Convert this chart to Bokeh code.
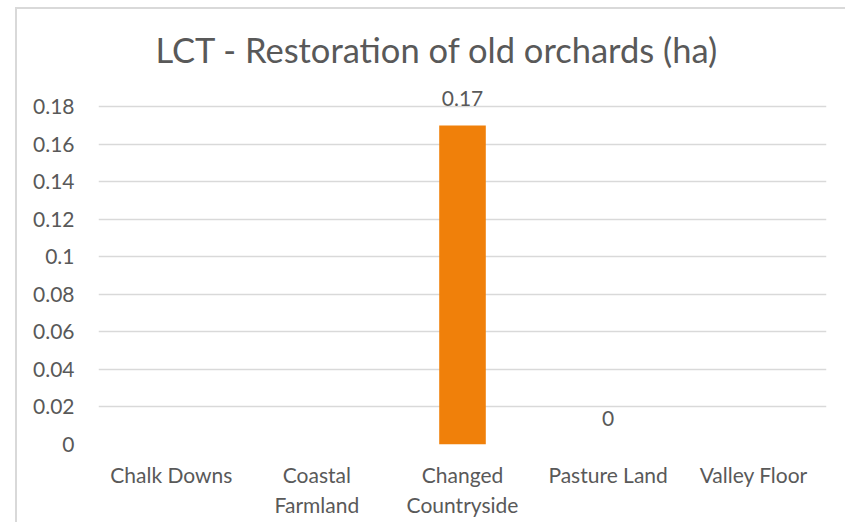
from bokeh.plotting import figure
from bokeh.models import ColumnDataSource, FixedTicker, LabelSet, Range1d, FactorRange
from bokeh.core.properties import value
from bokeh.embed import file_html
from bokeh.resources import INLINE
import math

# ---- data ----
categories = ["Chalk Downs", "Coastal\nFarmland", "Changed\nCountryside", "Pasture Land", "Valley Floor"]
values = [float("nan"), float("nan"), 0.17, 0.0, float("nan")]
y_ticks = [0, 0.02, 0.04, 0.06, 0.08, 0.1, 0.12, 0.14, 0.16, 0.18]
y_tick_labels = ["0", "0.02", "0.04", "0.06", "0.08", "0.1", "0.12", "0.14", "0.16", "0.18"]
title_text = "LCT - Restoration of old orchards (ha)"

FONT = "Lato"
TEXT_COLOR = "#595959"
GRID_COLOR = "#D9D9D9"
BAR_COLOR = "#F0800A"

src = ColumnDataSource(dict(cat=categories, val=values))
lab_cats = [c for c, v in zip(categories, values) if not math.isnan(v)]
lab_vals = [v for v in values if not math.isnan(v)]
lab_src = ColumnDataSource(dict(cat=lab_cats, val=lab_vals, txt=[f"{v:g}" for v in lab_vals]))

p = figure(
    x_range=FactorRange(*categories, range_padding=0),
    y_range=Range1d(y_ticks[0], 0.195),
    width=830, height=515,
    min_border_left=81, min_border_right=21, min_border_top=69, min_border_bottom=80,
    output_backend="svg", toolbar_location=None,
    margin=(7, 0, 0, 15),
    styles={"border-left": "2px solid #D9D9D9", "border-top": "2px solid #D9D9D9"},
)
p.title.text = title_text
p.title.align = "left"
p.title.offset = 57
p.title.text_font = FONT
p.title.text_font_size = "34.5px"
p.title.text_font_style = "normal"
p.title.text_color = TEXT_COLOR
p.title.standoff = 17

p.vbar(x="cat", top="val", width=0.32, source=src, fill_color=BAR_COLOR, line_color=None)

p.add_layout(LabelSet(x="cat", y="val", text="txt", source=lab_src, text_align="center",
                      text_baseline="bottom", y_offset=19, text_font=value(FONT),
                      text_font_size=value("21px"), text_color=value(TEXT_COLOR)))

p.outline_line_color = None
p.xgrid.grid_line_color = None
p.ygrid.grid_line_color = GRID_COLOR
p.ygrid.grid_line_width = 1.3
p.yaxis.ticker = FixedTicker(ticks=y_ticks)
p.yaxis.major_label_overrides = {t: l for t, l in zip(y_ticks, y_tick_labels)}

for ax in (p.xaxis, p.yaxis):
    ax.axis_line_color = None
    ax.major_tick_line_color = None
    ax.minor_tick_line_color = None
    ax.major_label_text_font = FONT
    ax.major_label_text_font_size = "21px"
    ax.major_label_text_color = TEXT_COLOR
p.yaxis.major_label_standoff = 18
p.xaxis.major_label_standoff = 11

open("out.html", "w").write(file_html(p, INLINE))
